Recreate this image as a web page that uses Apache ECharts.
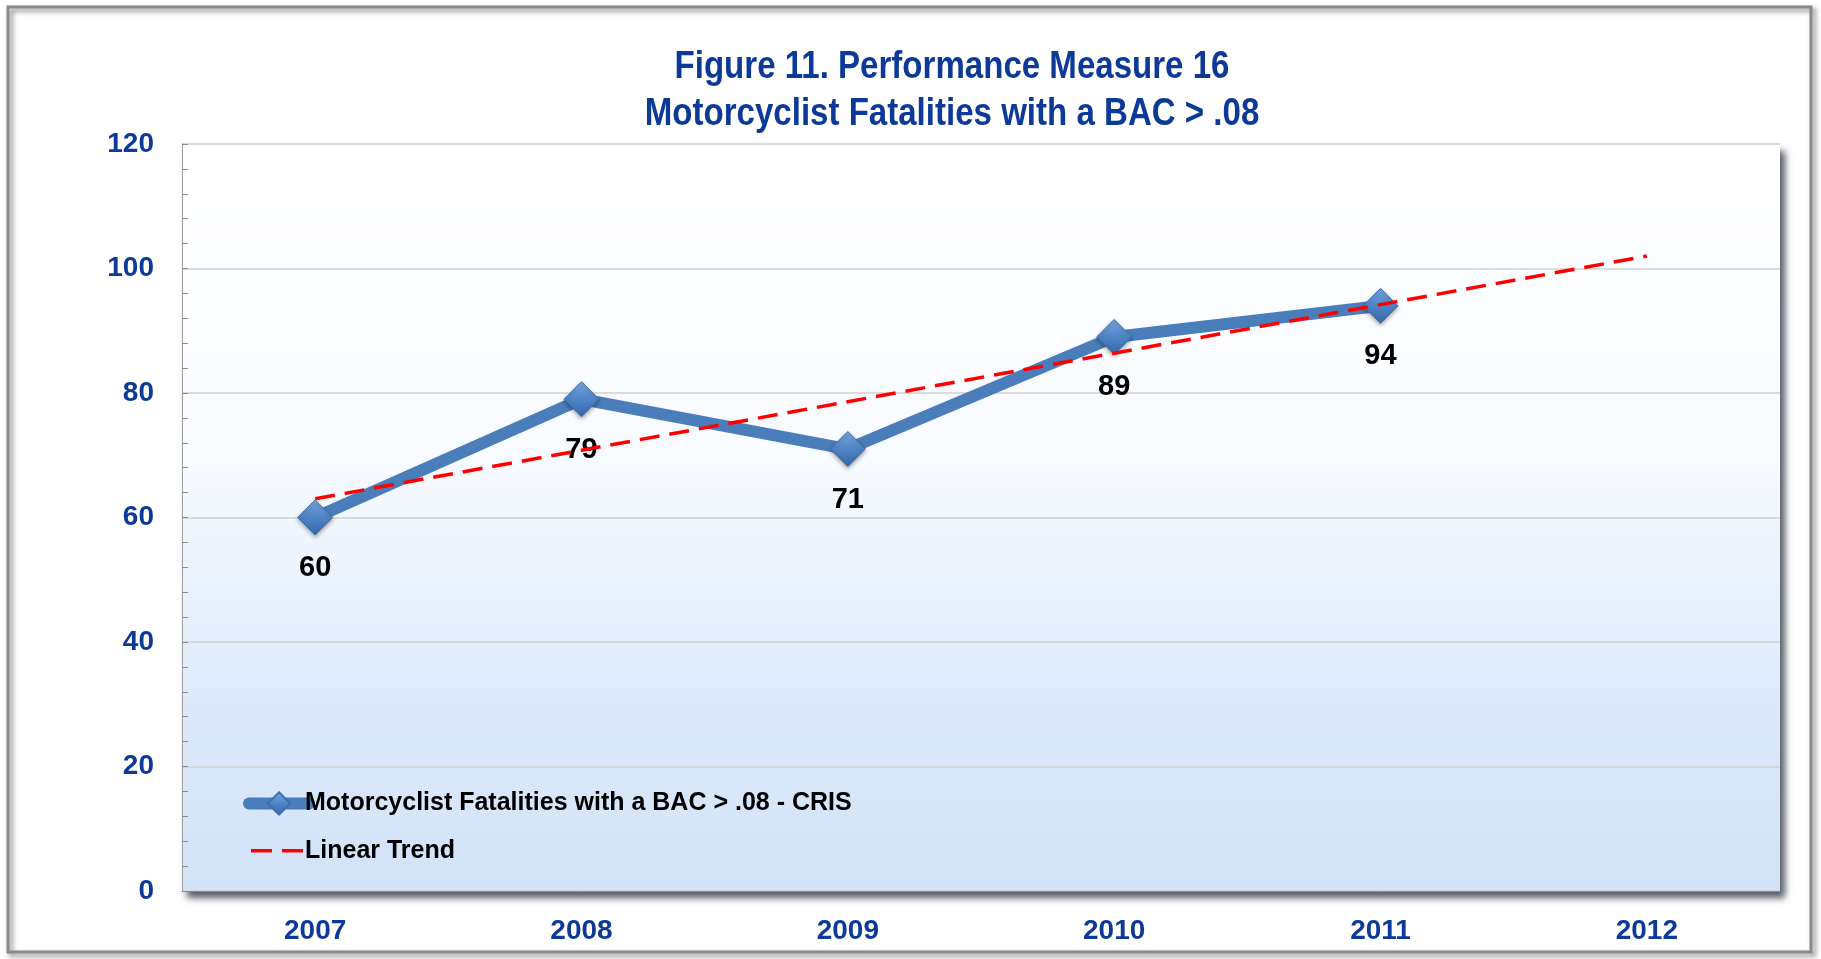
<!DOCTYPE html>
<html>
<head>
<meta charset="utf-8">
<style>
  html, body { margin: 0; padding: 0; background: #fff; }
  #chart { width: 1821px; height: 959px; }
</style>
<script src="https://cdn.jsdelivr.net/npm/echarts@6/dist/echarts.min.js"></script>
</head>
<body>
<div id="chart"></div>
<script>
'use strict';

// values
const years = ['2007', '2008', '2009', '2010', '2011', '2012'];
const fatalities = [60, 79, 71, 89, 94, null];
const trend = [63, 70.8, 78.6, 86.4, 94.2, 102];
const titleLines = ['Figure 11. Performance Measure 16', 'Motorcyclist Fatalities with a BAC > .08'];
const seriesNames = ['Motorcyclist Fatalities with a BAC > .08 - CRIS', 'Linear Trend'];

const font = "'Liberation Sans', Arial, sans-serif";
const blue = '#0d3a99';

// two short red dashes for the trend legend entry (corner dots keep the box 60x28)
const dashIcon = 'path://M0,0h0.01v0.01h-0.01z M2,12h21v3.6h-21z M33,12h21v3.6h-21z M59.99,27.99h0.01v0.01h-0.01z';

let chart = echarts.init(document.getElementById('chart'));

function titleText(text, y) {
  return {
    type: 'text',
    silent: true,
    x: 952,
    y: y,
    scaleX: 0.87,
    style: {
      text: text,
      x: 0,
      y: 0,
      textAlign: 'center',
      textVerticalAlign: 'middle',
      fontFamily: font,
      fontWeight: 'bold',
      fontSize: 38,
      fill: blue
    }
  };
}

chart.setOption({
  backgroundColor: '#fff',
  animation: false,
  graphic: [
    // outer chart frame
    {
      type: 'rect',
      silent: true,
      z: -10,
      shape: { x: 8, y: 7, width: 1803, height: 945 },
      style: {
        fill: 'none',
        stroke: '#8a8a8a',
        lineWidth: 3,
        shadowBlur: 5,
        shadowOffsetX: 3,
        shadowOffsetY: 3,
        shadowColor: 'rgba(0,0,0,0.5)'
      }
    },
    titleText(titleLines[0], 68),
    titleText(titleLines[1], 115)
  ],
  legend: {
    orient: 'vertical',
    left: 238,
    top: 786,
    itemWidth: 60,
    itemHeight: 28,
    itemGap: 21,
    lineStyle: { width: 'inherit', cap: 'round' },
    textStyle: {
      fontFamily: font,
      fontWeight: 'bold',
      fontSize: 25,
      color: '#000',
      padding: [0, 0, 0, -9]
    },
    data: [
      { name: seriesNames[0] },
      { name: seriesNames[1], icon: dashIcon, itemStyle: { color: '#ff0000' } }
    ]
  },
  grid: {
    left: 182,
    right: 41,
    top: 144,
    bottom: 68,
    show: true,
    borderWidth: 0,
    backgroundColor: {
      type: 'linear', x: 0, y: 0, x2: 0, y2: 1,
      colorStops: [
        { offset: 0, color: '#ffffff' },
        { offset: 0.42, color: '#f8fbff' },
        { offset: 0.75, color: '#dde9fa' },
        { offset: 1, color: '#d2e3f8' }
      ]
    },
    shadowColor: 'rgba(55,62,75,0.85)',
    shadowBlur: 7,
    shadowOffsetX: 5,
    shadowOffsetY: 7
  },
  xAxis: {
    type: 'category',
    data: years,
    boundaryGap: true,
    axisLine: { lineStyle: { color: '#8c8c8c', width: 1 } },
    axisTick: { length: 16, lineStyle: { color: '#8c8c8c' } },
    axisLabel: {
      margin: 26,
      fontFamily: font,
      fontWeight: 'bold',
      fontSize: 28,
      color: blue
    }
  },
  yAxis: {
    type: 'value',
    min: 0,
    max: 120,
    interval: 20,
    axisLine: { show: true, lineStyle: { color: '#a0a0a0' } },
    axisTick: { show: true, inside: true, length: 6, lineStyle: { color: '#8c8c8c' } },
    minorTick: { show: true, splitNumber: 5, length: 6, lineStyle: { color: '#8c8c8c' } },
    splitLine: { lineStyle: { color: '#d0d0d0', width: 1.5 } },
    axisLabel: {
      margin: 28,
      fontFamily: font,
      fontWeight: 'bold',
      fontSize: 28,
      color: blue
    }
  },
  series: [
    {
      name: seriesNames[0],
      type: 'line',
      data: fatalities,
      symbol: 'diamond',
      symbolSize: 35,
      lineStyle: { color: '#4a7ebb', width: 12, cap: 'round', join: 'round' },
      itemStyle: {
        color: {
          type: 'linear', x: 0, y: 0, x2: 0, y2: 1,
          colorStops: [
            { offset: 0, color: '#7aa7e0' },
            { offset: 0.5, color: '#4f84c6' },
            { offset: 1, color: '#3567a8' }
          ]
        },
        borderColor: '#3d6fae',
        borderWidth: 1,
        shadowBlur: 4,
        shadowOffsetY: 2,
        shadowColor: 'rgba(0,0,0,0.35)'
      },
      label: {
        show: true,
        position: 'bottom',
        distance: 18,
        fontFamily: font,
        fontWeight: 'bold',
        fontSize: 29,
        color: '#000'
      },
      z: 3
    },
    {
      name: seriesNames[1],
      type: 'line',
      data: trend,
      symbol: 'none',
      lineStyle: { color: '#ff0000', width: 3.5, type: [20, 10] },
      itemStyle: { color: '#ff0000' },
      z: 4
    }
  ]
});
</script>
</body>
</html>
